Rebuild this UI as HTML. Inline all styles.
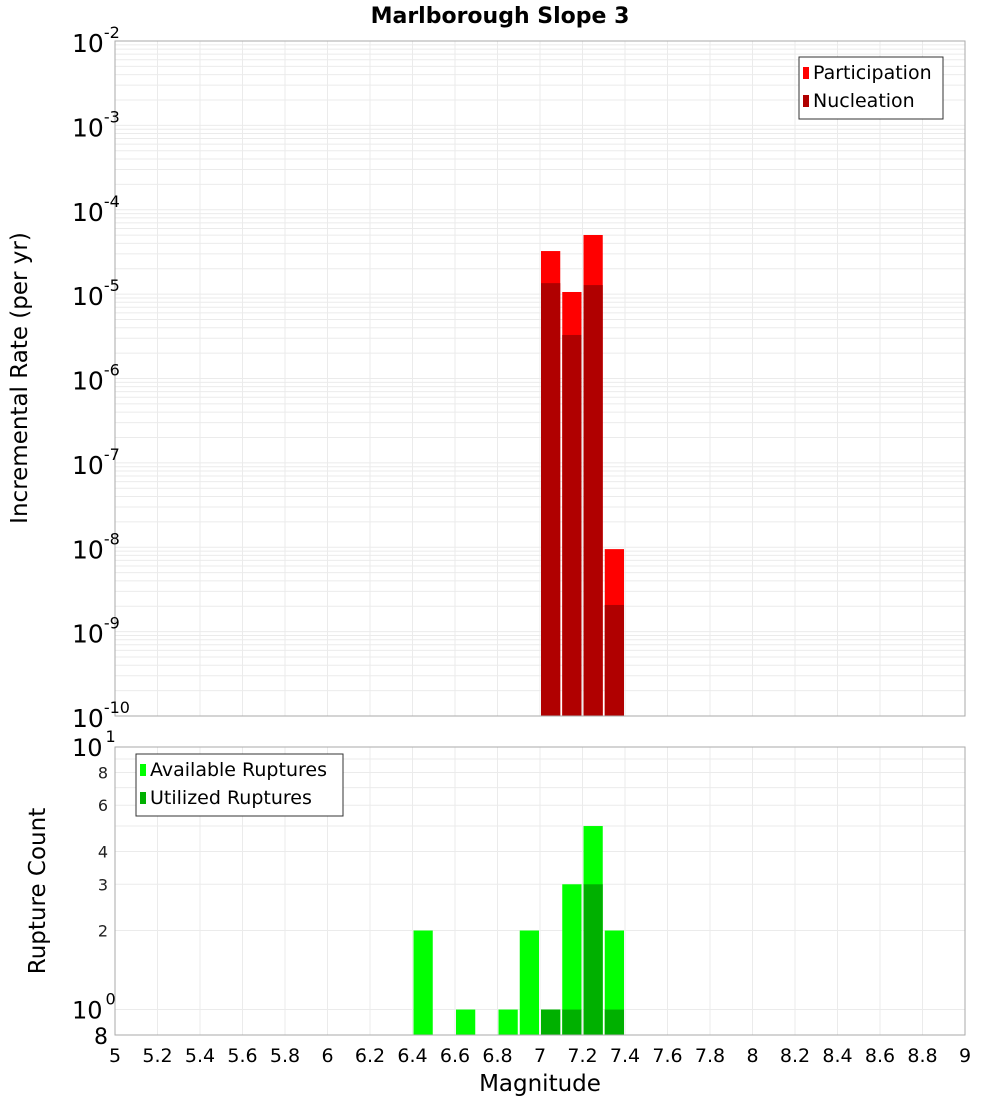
<!DOCTYPE html>
<html><head><meta charset="utf-8"><style>
body{margin:0;background:#fff;}
svg text{font-family:"DejaVu Sans","Liberation Sans",sans-serif;}
</style></head><body>
<svg id="c" width="1000" height="1100" xmlns="http://www.w3.org/2000/svg"></svg>
<script>
const mags = [7.05, 7.15, 7.25, 7.35];
const participation = [3.24e-5, 1.06e-5, 5.02e-5, 9.5e-9];
const nucleation = [1.35e-5, 3.28e-6, 1.28e-5, 2.07e-9];
const countMags = [6.45, 6.65, 6.85, 6.95, 7.05, 7.15, 7.25, 7.35];
const available = [2, 1, 1, 2, 1, 3, 5, 2];
const utilized = [0, 0, 0, 0, 1, 1, 3, 1];
const xTicks = ["5","5.2","5.4","5.6","5.8","6","6.2","6.4","6.6","6.8","7","7.2","7.4","7.6","7.8","8","8.2","8.4","8.6","8.8","9"];
const topExps = [-2,-3,-4,-5,-6,-7,-8,-9,-10];
const botMinor = [2,3,4,6,8];

const NS="http://www.w3.org/2000/svg";
const svg=document.getElementById('c');
function mk(tag,attrs,parent){const e=document.createElementNS(NS,tag);for(const k in attrs)e.setAttribute(k,attrs[k]);(parent||svg).appendChild(e);return e;}
const X0=115,X1=965;
const xs=v=>X0+(v-5)/4*(X1-X0);
const T0=41,T1=716;
const yTop=v=>T0+(-2-Math.log10(v))/8*(T1-T0);
const B0=747,B1=1035;
const bspan=1-Math.log10(0.8);
const yBot=v=>B0+(1-Math.log10(v))/bspan*(B1-B0);

let t=mk('text',{x:500,y:23,'text-anchor':'middle','font-size':22,'font-weight':'bold'});t.textContent='Marlborough Slope 3';


const g1=mk('g',{});

for(let e=-10;e<-2;e++){for(let m=1;m<10;m++){const y=yTop(m*Math.pow(10,e));mk('line',{x1:X0,x2:X1,y1:y,y2:y,stroke:'#ebebeb','stroke-width':1},g1);}}
for(let i=1;i<xTicks.length-1;i++){const x=xs(+xTicks[i]);mk('line',{x1:x,x2:x,y1:T0,y2:T1,stroke:'#ebebeb'},g1);mk('line',{x1:x,x2:x,y1:B0,y2:B1,stroke:'#ebebeb'},g1);}
for(let m=1;m<=9;m++){const y=yBot(m);mk('line',{x1:X0,x2:X1,y1:y,y2:y,stroke:'#ebebeb'},g1);}

const tb=mk('g',{});

mags.forEach((m,i)=>{
 const xl=xs(m-0.05)+1,w=xs(m+0.05)-xs(m-0.05)-2;
 let r=mk('rect',{x:xl,y:yTop(participation[i]),width:w,height:T1-yTop(participation[i]),fill:'#ff0000'},tb);
 
 r=mk('rect',{x:xl,y:yTop(nucleation[i]),width:w,height:T1-yTop(nucleation[i]),fill:'#b00000'},tb);
 
});
const bb=mk('g',{});

countMags.forEach((m,i)=>{
 const xl=xs(m-0.05)+1,w=xs(m+0.05)-xs(m-0.05)-2;
 let r=mk('rect',{x:xl,y:yBot(available[i]),width:w,height:B1-yBot(available[i]),fill:'#00ff00'},bb);
 
 if(utilized[i]>0){r=mk('rect',{x:xl,y:yBot(utilized[i]),width:w,height:B1-yBot(utilized[i]),fill:'#00b000'},bb);
 }
});

let f=mk('rect',{x:X0,y:T0,width:X1-X0,height:T1-T0,fill:'none',stroke:'#aaa'});

f=mk('rect',{x:X0,y:B0,width:X1-X0,height:B1-B0,fill:'none',stroke:'#aaa'});


topExps.forEach(e=>{const y=yTop(Math.pow(10,e));
 const tx=mk('text',{x:72,y:y+11,'font-size':25});
 
 tx.textContent='10';const s=mk('tspan',{dy:-14,'font-size':16},tx);s.textContent=String(e);});
let tx=mk('text',{x:72,y:yBot(10)+9,'font-size':24});tx.textContent='10';

let sp=mk('tspan',{dx:3,dy:-14,'font-size':16},tx);sp.textContent='1';
tx=mk('text',{x:72,y:yBot(1)+9,'font-size':24});tx.textContent='10';

sp=mk('tspan',{dx:3,dy:-14,'font-size':16},tx);sp.textContent='0';
botMinor.forEach(v=>{const tt=mk('text',{x:108,y:yBot(v)+6,'font-size':16,'text-anchor':'end',fill:'#222'});tt.textContent=String(v);
 });
tx=mk('text',{x:108,y:B1+9,'font-size':22,'text-anchor':'end'});tx.textContent='8';


xTicks.forEach(v=>{const tt=mk('text',{x:xs(+v),y:1062,'font-size':19,'text-anchor':'middle'});tt.textContent=v;
 });
tx=mk('text',{x:540,y:1091,'font-size':23,'text-anchor':'middle'});tx.textContent='Magnitude';

tx=mk('text',{x:0,y:0,'font-size':23,'text-anchor':'middle',transform:'translate(27,378) rotate(-90)'});tx.textContent='Incremental Rate (per yr)';

tx=mk('text',{x:0,y:0,'font-size':23,'text-anchor':'middle',transform:'translate(45,891) rotate(-90)'});tx.textContent='Rupture Count';


function legend(x,y,w,items,name){const g=mk('g',{});
 
 mk('rect',{x:x,y:y,width:w,height:items.length*28+6,fill:'#fff',stroke:'#333'},g);
 items.forEach(([c,l],i)=>{mk('rect',{x:x+4,y:y+10+i*28,width:6,height:12,fill:c},g);
  const tt=mk('text',{x:x+14,y:y+22+i*28,'font-size':19},g);tt.textContent=l;
  });}
legend(799,57,144,[['#ff0000','Participation'],['#b00000','Nucleation']],'top-legend');
legend(136,754,207,[['#00ff00','Available Ruptures'],['#00b000','Utilized Ruptures']],'bottom-legend');
</script>
</body></html>
